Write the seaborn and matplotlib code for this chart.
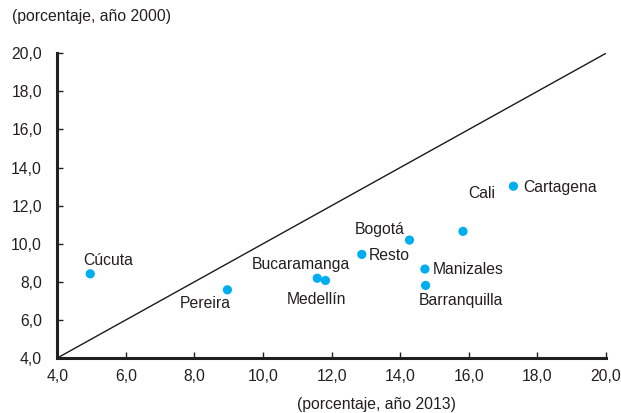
import matplotlib
matplotlib.use("Agg")
import matplotlib.pyplot as plt
import seaborn as sns
import pandas as pd
from matplotlib.ticker import FuncFormatter

ciudades = ["Cúcuta", "Pereira", "Bucaramanga", "Medellín", "Resto", "Bogotá",
            "Manizales", "Barranquilla", "Cali", "Cartagena"]
pct_2013 = [4.96, 8.96, 11.58, 11.82, 12.88, 14.27, 14.72, 14.74, 15.83, 17.30]
pct_2000 = [8.42, 7.58, 8.19, 8.07, 9.44, 10.19, 8.67, 7.81, 10.65, 13.02]
ticks = [4, 6, 8, 10, 12, 14, 16, 18, 20]

# label offsets in pixels (dx, dy) and alignment
offsets = {
    "Cúcuta": (17.5, 13, "center"),
    "Pereira": (-22.5, -14, "center"),
    "Bucaramanga": (-16.7, 13.7, "center"),
    "Medellín": (-9, -19, "center"),
    "Resto": (7, -1, "left"),
    "Bogotá": (-29.7, 10.3, "center"),
    "Manizales": (8, -0.7, "left"),
    "Barranquilla": (35, -15.3, "center"),
    "Cali": (19, 37.7, "center"),
    "Cartagena": (10, -1, "left"),
}

df = pd.DataFrame({"ciudad": ciudades, "x": pct_2013, "y": pct_2000})

sns.set_theme(style="white")
plt.rcParams["font.family"] = ["Liberation Sans", "DejaVu Sans"]

fig = plt.figure(figsize=(6.21, 4.13), dpi=100)
ax = fig.add_axes([0.0923, 0.1332, 0.9758 - 0.0923, 0.871 - 0.1332])

ax.plot([4, 20], [4, 20], color="#1a1a1a", lw=1.0, zorder=1)
sns.scatterplot(data=df, x="x", y="y", ax=ax, color="#00AEEF", s=44,
                edgecolor="none", zorder=3, clip_on=False)

for c, x, y in zip(ciudades, pct_2013, pct_2000):
    dx, dy, ha = offsets[c]
    ax.annotate(c, (x, y), xytext=(dx * 0.72, dy * 0.72), textcoords="offset points",
                ha=ha, va="center", fontsize=11.3, color="#231f20")

ax.set_xlim(4, 20)
ax.set_ylim(4, 20)
ax.set_xticks(ticks)
ax.set_yticks(ticks)
fmt = FuncFormatter(lambda v, p: f"{v:.1f}".replace(".", ","))
ax.xaxis.set_major_formatter(fmt)
ax.yaxis.set_major_formatter(fmt)
ax.tick_params(axis="both", direction="in", length=4, width=1, colors="#231f20",
               labelsize=11.3, labelcolor="#231f20", bottom=True, left=True)
ax.tick_params(axis="x", pad=8)
ax.tick_params(axis="y", pad=11)
ax.set_xlabel("")
ax.set_ylabel("")
for s in ["top", "right"]:
    ax.spines[s].set_visible(False)
for s in ["left", "bottom"]:
    ax.spines[s].set_linewidth(2.2)
    ax.spines[s].set_color("#231f20")

fig.text(12 / 621, 1 - 17 / 413, "(porcentaje, año 2000)", ha="left", va="center",
         fontsize=11.3, color="#231f20")
fig.text(376 / 621, 1 - 404 / 413, "(porcentaje, año 2013)", ha="center", va="center",
         fontsize=11.3, color="#231f20")

fig.savefig("out.png", dpi=100)
